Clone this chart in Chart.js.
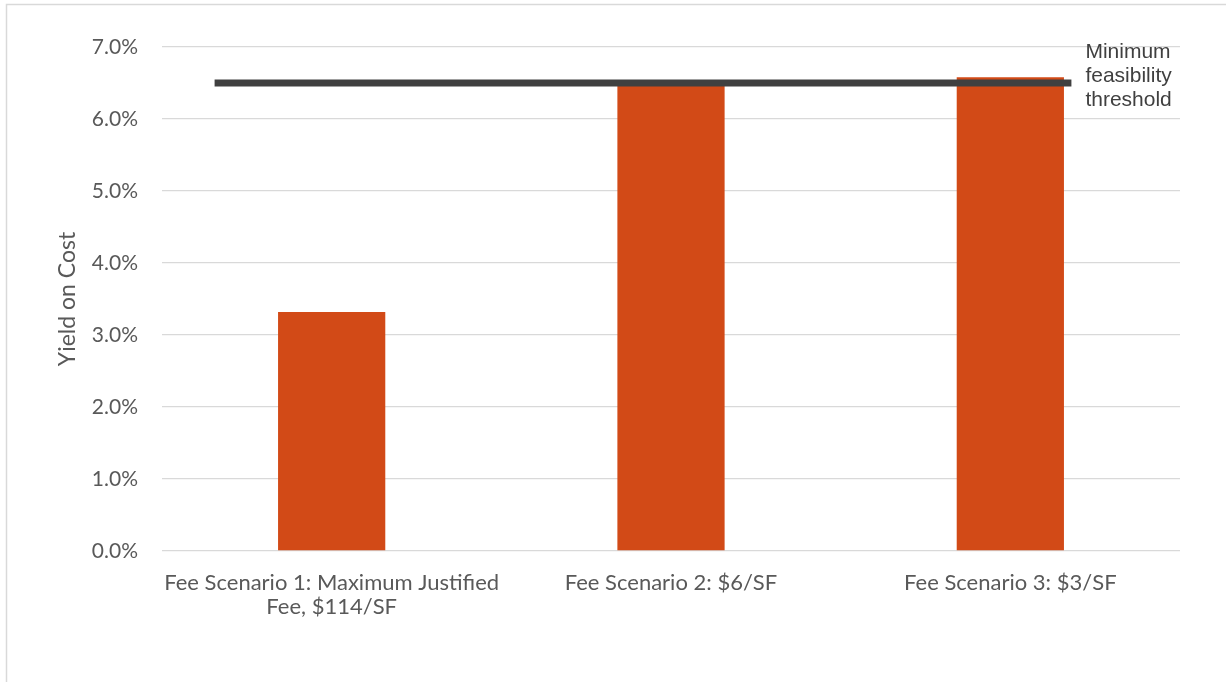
<!DOCTYPE html>
<html><head><meta charset="utf-8">
<script src="https://cdn.jsdelivr.net/npm/chart.js@4"></script>
<style>html,body{margin:0;padding:0;background:#fff;overflow:hidden}#wrap{width:1226px;height:682px;position:relative}</style>
</head><body><div id="wrap"><canvas id="c" width="1226" height="682"></canvas></div>
<script>
const categories = [['Fee Scenario 1: Maximum Justified', 'Fee, $114/SF'], 'Fee Scenario 2: $6/SF', 'Fee Scenario 3: $3/SF'];
const yieldOnCost = [3.32, 6.5, 6.58];
const thresholdValue = 6.5;
const thresholdSpan = [-0.345, 2.18];
const thresholdLabel = ['Minimum', 'feasibility', 'threshold'];
const yTitle = 'Yield on Cost';
const yMin = 0, yMax = 7, yStep = 1;

const UI_FONT = 'Lato, Calibri, "Open Sans", sans-serif';
const framePlugin = {
  id: 'frame',
  beforeDraw(chart) {
    const ctx = chart.ctx;
    ctx.save();
    ctx.fillStyle = '#fff';
    ctx.fillRect(0, 0, chart.width, chart.height);
    ctx.strokeStyle = '#d9d9d9';
    ctx.lineWidth = 1.5;
    ctx.strokeRect(6.5, 4.5, chart.width + 20, chart.height + 20);
    ctx.restore();
  },
  afterDatasetsDraw(chart) {
    const ctx = chart.ctx;
    const xs = chart.scales.x2, ys = chart.scales.y;
    const x = xs.getPixelForValue(thresholdSpan[1]) + 14;
    const y = ys.getPixelForValue(thresholdValue) - 1.5;
    ctx.save();
    ctx.fillStyle = '#404040';
    ctx.font = '21px "Liberation Sans", Arial, sans-serif';
    ctx.textAlign = 'left';
    ctx.textBaseline = 'alphabetic';
    thresholdLabel.forEach((t, i) => ctx.fillText(t, x, y + (i - 1) * 24));
    ctx.restore();
  }
};

new Chart(document.getElementById('c'), {
  data: {
    labels: categories,
    datasets: [
      {
        type: 'line',
        label: 'Minimum feasibility threshold',
        xAxisID: 'x2',
        data: thresholdSpan.map(v => ({ x: v, y: thresholdValue })),
        borderColor: '#404040',
        borderWidth: 7,
        borderCapStyle: 'butt',
        pointRadius: 0,
        fill: false,
        order: 0
      },
      {
        type: 'bar',
        label: 'Yield on Cost',
        data: yieldOnCost,
        backgroundColor: '#D24A17',
        grouped: false,
        categoryPercentage: 1,
        barPercentage: 0.316,
        order: 1
      }
    ]
  },
  options: {
    responsive: false,
    animation: false,
    devicePixelRatio: 1,
    layout: { padding: { left: 0, right: 46, top: 47, bottom: 0 } },
    plugins: { legend: { display: false }, tooltip: { enabled: false } },
    scales: {
      x: {
        type: 'category',
        offset: true,
        grid: { display: false, drawTicks: false },
        border: { display: false },
        ticks: {
          color: '#595959',
          font: { family: UI_FONT, size: 22, lineHeight: 1.09 },
          maxRotation: 0, minRotation: 0, autoSkip: false, padding: 20
        },
        afterFit(s) { s.height = 131; }
      },
      x2: { type: 'linear', min: -0.5, max: 2.5, display: false },
      y: {
        min: yMin, max: yMax,
        grid: { color: '#d9d9d9', lineWidth: 1.3, drawTicks: false },
        border: { display: false },
        ticks: {
          stepSize: yStep,
          color: '#595959',
          font: { family: UI_FONT, size: 21 },
          padding: 24,
          callback: v => v.toFixed(1) + '%'
        },
        title: {
          display: true, text: yTitle, color: '#595959',
          font: { family: UI_FONT, size: 23 },
          padding: { top: 54, bottom: 0 }
        },
        afterFit(s) { s.width = 162; }
      }
    }
  },
  plugins: [framePlugin]
});
</script></body></html>
